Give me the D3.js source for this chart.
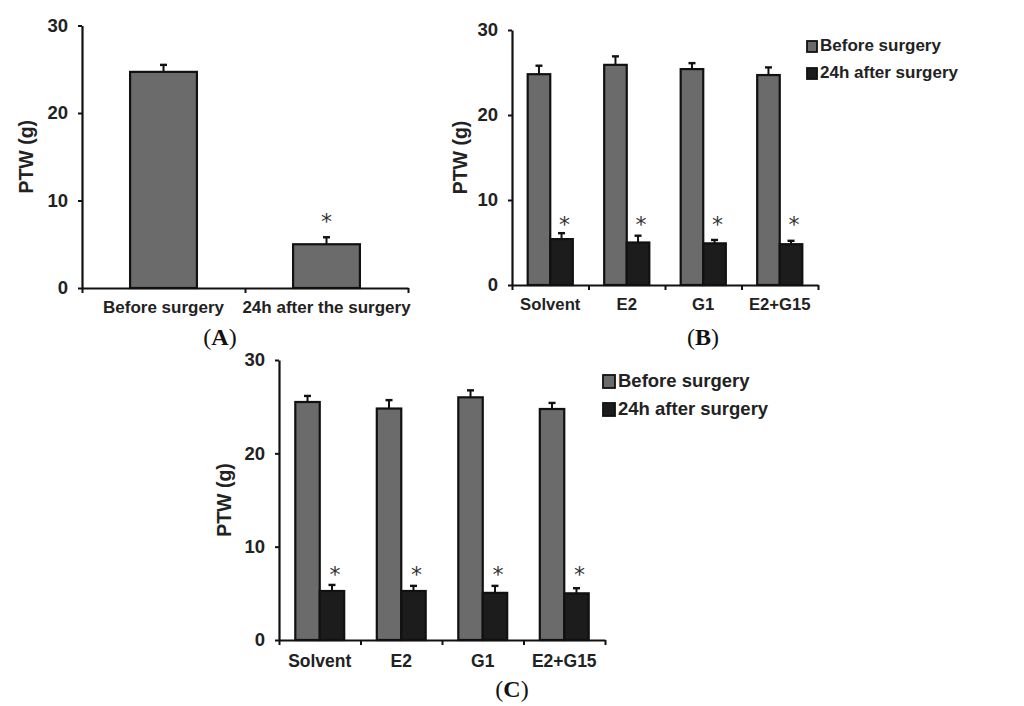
<!DOCTYPE html>
<html>
<head>
    <meta charset="utf-8">
    <title>PTW before and after surgery</title>
    <script src="https://d3js.org/d3.v7.min.js"></script>
    <style>
        body { margin: 0; background: #fff; }
    </style>
</head>
<body>
<div id="chart"></div>
<script type="text/javascript">
    // data (PTW in grams)
    let yTicks = [0, 10, 20, 30];
    let seriesNames = ["Before surgery", "24h after surgery"];

    // panel A: one bar per condition
    let categoriesA = ["Before surgery", "24h after the surgery"];
    let valuesA = [24.7, 5.0];
    let errorsA = [0.8, 0.8];
    let starsA = [false, true];

    // panel B
    let groupsB = ["Solvent", "E2", "G1", "E2+G15"];
    let beforeB = [24.8, 25.9, 25.4, 24.7];
    let beforeErrB = [1.0, 1.0, 0.7, 0.9];
    let afterB = [5.4, 5.0, 4.9, 4.8];
    let afterErrB = [0.7, 0.8, 0.4, 0.4];

    // panel C
    let groupsC = ["Solvent", "E2", "G1", "E2+G15"];
    let beforeC = [25.5, 24.8, 26.0, 24.75];
    let beforeErrC = [0.65, 0.9, 0.75, 0.65];
    let afterC = [5.25, 5.25, 5.05, 5.0];
    let afterErrC = [0.65, 0.55, 0.75, 0.55];

    let grey = "#6b6b6b", black = "#1c1c1c";

    let svg = d3.select("#chart")
            .append("svg")
                .attr("width", 1024)
                .attr("height", 706)
                .attr("font-family", "Liberation Sans, Arial, sans-serif");

    svg.append("rect").attr("width", 1024).attr("height", 706).attr("fill", "#fff");

    // draws one bar panel; o holds the layout, series holds the values
    function drawPanel(o, groups, series) {
        let g = svg.append("g");

        let y = d3.scaleLinear().domain([0, 30]).range([o.bottom, o.top]);
        let x0 = d3.scaleBand().domain(groups).range([o.left, o.right])
                   .paddingInner(o.pad).paddingOuter(o.pad / 2);
        let x1 = d3.scaleBand().domain(d3.range(series.length)).range([0, x0.bandwidth()]);

        // y axis
        let ya = g.append("g")
            .attr("transform", "translate(" + o.left + ",0)")
            .call(d3.axisLeft(y).tickValues(yTicks).tickSize(4).tickSizeOuter(0).tickPadding(10));
        ya.select(".domain").attr("stroke", "#111").attr("stroke-width", 2.2);
        ya.selectAll(".tick line").attr("stroke", "#111").attr("stroke-width", 2);
        ya.selectAll(".tick text")
            .attr("font-size", "18.5px").attr("font-weight", "bold")
            .attr("font-family", "Liberation Sans, Arial, sans-serif").attr("fill", "#222");

        // x axis, ticks on the group boundaries
        let xb = d3.scaleLinear().domain([0, groups.length]).range([o.left, o.right]);
        let xa = g.append("g")
            .attr("transform", "translate(0," + o.bottom + ")")
            .call(d3.axisBottom(xb).tickValues(d3.range(groups.length + 1)).tickSize(5).tickSizeOuter(0).tickFormat(""));
        xa.select(".domain").attr("stroke", "#111").attr("stroke-width", 2.2);
        xa.selectAll(".tick line").attr("stroke", "#111").attr("stroke-width", 2);

        // category labels
        g.selectAll("text.cat")
            .data(groups)
            .enter()
            .append("text")
            .attr("class", "cat")
            .attr("x", function (d) { return x0(d) + x0.bandwidth() / 2; })
            .attr("y", o.labelY)
            .attr("text-anchor", "middle")
            .attr("font-size", o.labelSize + "px")
            .attr("font-weight", "bold")
            .attr("fill", "#222")
            .text(function (d) { return d; });

        // axis title
        g.append("text")
            .attr("transform", "translate(" + o.titleX + "," + (o.top + o.bottom) / 2 + ") rotate(-90)")
            .attr("text-anchor", "middle")
            .attr("dominant-baseline", "central")
            .attr("font-size", "19.5px")
            .attr("font-weight", "bold")
            .attr("fill", "#222")
            .text("PTW (g)");

        series.forEach(function (s, si) {
            let rows = groups.map(function (d, i) {
                return {group: d, v: s.values[i], e: s.errors[i], star: s.stars[i]};
            });
            let cx = function (d) { return x0(d.group) + x1(si) + x1.bandwidth() / 2; };
            let sg = g.append("g");

            // error bars (upper half only)
            sg.selectAll("line.err")
                .data(rows)
                .enter()
                .append("line")
                .attr("x1", cx)
                .attr("x2", cx)
                .attr("y1", function (d) { return y(d.v); })
                .attr("y2", function (d) { return y(d.v + d.e); })
                .attr("stroke", "#111")
                .attr("stroke-width", 2);
            sg.selectAll("line.cap")
                .data(rows)
                .enter()
                .append("line")
                .attr("x1", function (d) { return cx(d) - 3.5; })
                .attr("x2", function (d) { return cx(d) + 3.5; })
                .attr("y1", function (d) { return y(d.v + d.e); })
                .attr("y2", function (d) { return y(d.v + d.e); })
                .attr("stroke", "#111")
                .attr("stroke-width", 2.4);

            sg.selectAll("rect")
                .data(rows)
                .enter()
                .append("rect")
                .attr("x", function (d) { return x0(d.group) + x1(si); })
                .attr("y", function (d) { return y(d.v); })
                .attr("width", x1.bandwidth())
                .attr("height", function (d) { return y(0) - y(d.v); })
                .attr("fill", s.fill)
                .attr("stroke", "#111")
                .attr("stroke-width", 2.2);

            // significance marks
            sg.selectAll("text.star")
                .data(rows.filter(function (d) { return d.star; }))
                .enter()
                .append("text")
                .attr("x", function (d) { return cx(d) + o.starDx; })
                .attr("y", o.starY + 12)
                .attr("text-anchor", "middle")
                .attr("font-family", "DejaVu Sans, sans-serif")
                .attr("font-size", "22px")
                .attr("fill", "#333")
                .text("*");
        });

        // legend
        if (o.legend) {
            let lg = g.append("g");
            lg.selectAll("rect")
                .data(series)
                .enter()
                .append("rect")
                .attr("x", o.legend.x)
                .attr("y", function (d, i) { return o.legend.y + i * o.legend.gap - o.legend.box + 1; })
                .attr("width", o.legend.box - 1)
                .attr("height", o.legend.box)
                .attr("fill", function (d) { return d.fill; })
                .attr("stroke", "#111")
                .attr("stroke-width", 1.8);
            lg.selectAll("text")
                .data(seriesNames)
                .enter()
                .append("text")
                .attr("x", o.legend.x + o.legend.box + 2)
                .attr("y", function (d, i) { return o.legend.y + i * o.legend.gap; })
                .attr("font-size", o.legend.size + "px")
                .attr("font-weight", "bold")
                .attr("fill", "#222")
                .text(function (d) { return d; });
        }

        // panel letter
        let cap = g.append("text")
            .attr("x", o.capX)
            .attr("y", o.capY)
            .attr("text-anchor", "middle")
            .attr("font-family", "Liberation Serif, Times New Roman, serif")
            .attr("font-size", "24px")
            .attr("fill", "#111");
        cap.append("tspan").text("(");
        cap.append("tspan").attr("font-weight", "bold").text(o.letter);
        cap.append("tspan").text(")");
    }

    drawPanel({left: 82, right: 408, top: 25.5, bottom: 288, pad: 0.59, labelY: 313, labelSize: 17,
               titleX: 26, starY: 217, starDx: 0, capX: 220, capY: 345, letter: "A"},
              categoriesA,
              [{values: valuesA, errors: errorsA, fill: grey, stars: starsA}]);

    drawPanel({left: 512, right: 818, top: 30, bottom: 285, pad: 0.41, labelY: 310, labelSize: 16.7,
               titleX: 460, starY: 220, starDx: 3, capX: 703, capY: 345, letter: "B",
               legend: {x: 807, y: 51, gap: 27, box: 11, size: 17}},
              groupsB,
              [{values: beforeB, errors: beforeErrB, fill: grey, stars: [false, false, false, false]},
               {values: afterB, errors: afterErrB, fill: black, stars: [true, true, true, true]}]);

    drawPanel({left: 279, right: 605, top: 360, bottom: 640, pad: 0.4, labelY: 667, labelSize: 17.5,
               titleX: 224, starY: 570, starDx: 3, capX: 512, capY: 697, letter: "C",
               legend: {x: 603, y: 387, gap: 28, box: 13, size: 18.5}},
              groupsC,
              [{values: beforeC, errors: beforeErrC, fill: grey, stars: [false, false, false, false]},
               {values: afterC, errors: afterErrC, fill: black, stars: [true, true, true, true]}]);
</script>
</body>
</html>
